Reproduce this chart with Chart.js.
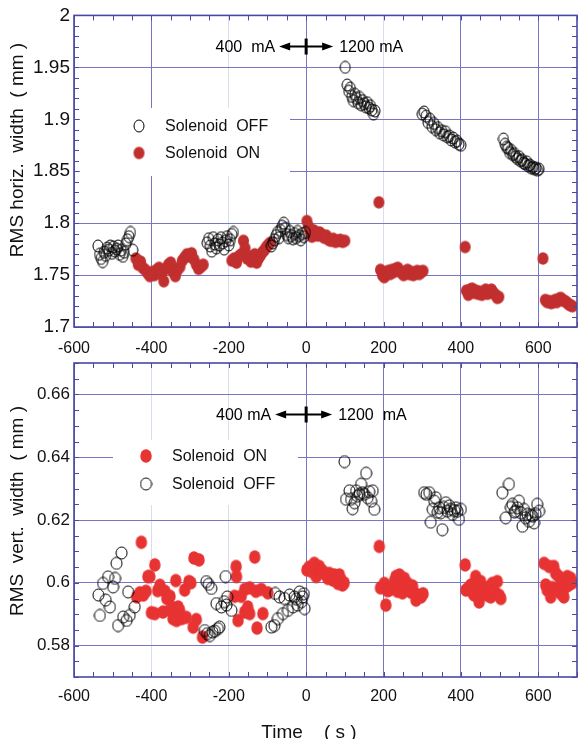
<!DOCTYPE html>
<html lang="en-US">
  <head>
    <meta charset="utf-8" />
    <title>Beam width vs time</title>
    <script src="https://cdn.jsdelivr.net/npm/chart.js@4.4.0/dist/chart.umd.min.js"></script>
  </head>
  <body>
    <div class="page">
      <canvas id="horiz" width="583" height="400"></canvas>
      <canvas id="vert" width="583" height="399"></canvas>
    </div>
  </body>

  <style>
    body{
      margin: 0;
      background: #fff;
    }
    .page{
      position: relative;
      width: 583px;
      height: 739px;
    }
    #horiz{
      position: absolute;
      left: 0;
      top: 0;
    }
    #vert{
      position: absolute;
      left: 0;
      top: 340px;
    }
  </style>

  <script>
    // time axis (s)
    const timeTicks = [-600, -400, -200, 0, 200, 400, 600];

    // horizontal width (mm)
    const horizTicks = [1.7, 1.75, 1.8, 1.85, 1.9, 1.95, 2];
    const horizTickLabels = ['1.7', '1.75', '1.8', '1.85', '1.9', '1.95', '2'];

    const horizOffT = [
      -538, -534, -530, -526, -522, -518, -514, -510, -506, -502, -498, -494, -490, -486, -482, -478, -474, -470, -466, -462, -458, -454, -448,
      -256, -252, -248, -244, -240, -236, -232, -228, -224, -220, -216, -212, -208, -204, -200, -196, -192, -188,
      -90, -86, -82, -78, -74, -70, -66, -62, -58, -54, -50, -46, -42, -38, -34, -30, -26, -22, -18, -14, -10, -6, -2,
      101, 106, 110, 114, 118, 122, 126, 130, 134, 138, 142, 146, 150, 154, 158, 162, 166, 170, 174, 178,
      300, 305, 310, 315, 320, 325, 330, 335, 340, 345, 350, 355, 360, 365, 370, 375, 380, 385, 390, 395, 400,
      510, 514, 518, 522, 526, 530, 534, 538, 542, 546, 550, 554, 558, 562, 566, 570, 574, 578, 582, 586, 590, 594, 598, 602
    ];
    const horizOffW = [
      1.778, 1.770, 1.766, 1.763, 1.772, 1.769, 1.776, 1.774, 1.778, 1.771, 1.777, 1.773, 1.775, 1.778, 1.770, 1.774, 1.768, 1.772, 1.780, 1.784, 1.787, 1.791, 1.774,
      1.781, 1.785, 1.778, 1.773, 1.786, 1.780, 1.776, 1.784, 1.779, 1.786, 1.781, 1.775, 1.783, 1.787, 1.779, 1.784, 1.789, 1.791,
      1.778, 1.781, 1.784, 1.788, 1.791, 1.786, 1.793, 1.797, 1.800, 1.795, 1.789, 1.786, 1.792, 1.788, 1.785, 1.790, 1.786, 1.792, 1.788, 1.784, 1.790, 1.787, 1.791,
      1.950, 1.933, 1.927, 1.930, 1.922, 1.918, 1.924, 1.920, 1.916, 1.921, 1.914, 1.918, 1.915, 1.912, 1.916, 1.911, 1.913, 1.909, 1.905, 1.908,
      1.905, 1.907, 1.903, 1.897, 1.900, 1.893, 1.896, 1.890, 1.892, 1.887, 1.889, 1.885, 1.888, 1.883, 1.884, 1.880, 1.882, 1.878, 1.879, 1.876, 1.875,
      1.881, 1.876, 1.873, 1.872, 1.868, 1.870, 1.866, 1.867, 1.864, 1.862, 1.864, 1.860, 1.861, 1.858, 1.857, 1.859, 1.855, 1.856, 1.853, 1.854, 1.852, 1.853, 1.851, 1.852
    ];

    const horizOnT = [
      -440, -434, -428, -422, -416, -410, -404, -398, -392, -386, -380, -374, -368, -362, -356, -350, -344, -338, -332, -326, -320, -314, -308, -302, -296, -290, -284, -278, -272, -266,
      -192, -186, -180, -174, -168, -162, -158, -153, -148, -143, -138, -133, -128, -123, -118, -113, -108, -103, -98, -93,
      2, 6, 10, 15, 20, 25, 30, 35, 40, 46, 52, 58, 64, 70, 76, 82, 88, 94, 100,
      188,
      192, 197, 202, 207, 212, 217, 222, 227, 232, 237, 242, 247, 252, 257, 262, 267, 272, 277, 282, 287, 292, 297, 302,
      411,
      414, 419, 424, 429, 434, 439, 444, 449, 454, 459, 464, 469, 474, 479, 484, 489, 494, 498,
      612,
      618, 623, 628, 633, 638, 643, 648, 653, 658, 663, 668, 673, 678, 683, 688
    ];
    const horizOnW = [
      1.766, 1.760, 1.763, 1.757, 1.755, 1.752, 1.749, 1.753, 1.750, 1.755, 1.757, 1.751, 1.744, 1.756, 1.760, 1.762, 1.753, 1.749, 1.755, 1.758, 1.764, 1.767, 1.770, 1.768, 1.771, 1.765, 1.760, 1.756, 1.758, 1.760,
      1.764, 1.766, 1.762, 1.768, 1.770, 1.783, 1.776, 1.766, 1.768, 1.763, 1.765, 1.770, 1.762, 1.766, 1.769, 1.772, 1.774, 1.777, 1.779, 1.781,
      1.802, 1.797, 1.791, 1.787, 1.793, 1.790, 1.788, 1.791, 1.789, 1.786, 1.788, 1.784, 1.783, 1.785, 1.782, 1.783, 1.784, 1.782, 1.783,
      1.820,
      1.755, 1.750, 1.748, 1.752, 1.754, 1.751, 1.755, 1.753, 1.756, 1.757, 1.754, 1.752, 1.750, 1.753, 1.755, 1.751, 1.753, 1.750, 1.752, 1.754, 1.751, 1.753, 1.754,
      1.777,
      1.735, 1.731, 1.736, 1.737, 1.733, 1.735, 1.732, 1.734, 1.731, 1.733, 1.736, 1.732, 1.734, 1.736, 1.733, 1.731, 1.728, 1.729,
      1.766,
      1.726, 1.724, 1.725, 1.723, 1.724, 1.726, 1.724, 1.727, 1.728, 1.726, 1.725, 1.724, 1.722, 1.721, 1.720
    ];

    // vertical width (mm)
    const vertTicks = [0.58, 0.6, 0.62, 0.64, 0.66];
    const vertTickLabels = ['0.58', '0.6', '0.62', '0.64', '0.66'];

    const vertOffT = [
      -537, -533, -525, -518, -512, -507, -499, -494, -490, -486, -477, -473, -464, -460, -456, -443,
      -262, -258, -256, -252, -249, -245, -242, -236, -232, -228, -224, -219, -212, -208, -206, -204, -193,
      -90, -82, -80, -73, -69, -60, -56, -47, -43, -34, -30, -26, -22, -17, -12, -9, -6, -4,
      99, 103, 112, 116, 120, 125, 129, 133, 138, 142, 146, 150, 155, 159, 163, 168, 172, 176,
      305, 311, 318, 322, 327, 331, 335, 340, 344, 348, 352, 356, 361, 365, 370, 374, 378, 383, 387, 391, 395, 400,
      507, 516, 524, 529, 533, 538, 542, 546, 550, 555, 559, 563, 567, 572, 576, 581, 585, 589, 593, 597, 602
    ];
    const vertOffW = [
      0.5961, 0.5896, 0.5998, 0.5945, 0.6019, 0.5923, 0.5987, 0.6014, 0.6062, 0.5864, 0.6095, 0.5891, 0.5880, 0.5971, 0.5896, 0.5923,
      0.5848, 0.6004, 0.5838, 0.5995, 0.5832, 0.5982, 0.5843, 0.5846, 0.5934, 0.5854, 0.5859, 0.5923, 0.5940, 0.6020, 0.5929, 0.5955, 0.5912,
      0.5859, 0.5864, 0.5966, 0.5886, 0.5955, 0.5902, 0.5950, 0.5912, 0.5961, 0.5923, 0.5955, 0.5948, 0.5929, 0.5971, 0.5940, 0.5955, 0.5965, 0.5918,
      0.6386, 0.6266, 0.6293, 0.6266, 0.6236, 0.6255, 0.6293, 0.6276, 0.6282, 0.6314, 0.6287, 0.6282, 0.6349, 0.6271, 0.6290, 0.6260, 0.6293, 0.6234,
      0.6287, 0.6282, 0.6287, 0.6193, 0.6234, 0.6260, 0.6271, 0.6225, 0.6239, 0.6223, 0.6169, 0.6240, 0.6255, 0.6228, 0.6245, 0.6234, 0.6218, 0.6230, 0.6239, 0.6228, 0.6202, 0.6234,
      0.6287, 0.6207, 0.6314, 0.6240, 0.6250, 0.6225, 0.6228, 0.6239, 0.6260, 0.6223, 0.6180, 0.6234, 0.6207, 0.6218, 0.6196, 0.6215, 0.6212, 0.6191, 0.6220, 0.6250, 0.6228
    ];

    const vertOnT = [
      -438, -430, -426, -421, -414, -409, -404, -400, -391, -391, -384, -378, -370, -365, -360, -352, -352, -348, -344, -340, -337, -335, -331, -327, -322, -314, -310, -303, -298, -292, -290, -284, -277, -268,
      -185, -181, -180, -176, -168, -159, -159, -151, -146, -146, -133, -130, -127, -116, -112, -99,
      2, 8, 14, 21, 26, 30, 34, 39, 43, 48, 52, 56, 60, 65, 69, 73, 78, 82, 86, 90, 94, 98,
      189,
      192, 202, 206, 210, 215, 223, 228, 232, 236, 241, 245, 249, 254, 258, 262, 266, 271, 275, 279, 284, 290, 297, 302,
      411,
      413, 420, 426, 430, 434, 438, 443, 447, 451, 456, 460, 464, 469, 473, 477, 481, 486, 490, 494, 499, 503,
      615, 619, 623, 628, 632, 636, 640, 645, 649, 653, 658, 662, 666, 671, 675, 679, 684, 688
    ];
    const vertOnW = [
      0.5955, 0.5968, 0.6129, 0.5961, 0.5973, 0.6020, 0.6020, 0.5905, 0.6057, 0.5902, 0.5975, 0.5992, 0.5907, 0.5973, 0.5950, 0.5957, 0.5912, 0.5923, 0.5886, 0.5890, 0.6007, 0.5880, 0.5923, 0.5912, 0.5886, 0.5977, 0.5890, 0.6004, 0.6000, 0.5859, 0.6079, 0.5883, 0.6073, 0.5827,
      0.5957, 0.6052, 0.6020, 0.5880, 0.5957, 0.5979, 0.5907, 0.5923, 0.5984, 0.5902, 0.6082, 0.5973, 0.5856, 0.5979, 0.5902, 0.5968,
      0.6041, 0.6050, 0.6036, 0.6062, 0.6020, 0.6046, 0.6052, 0.6041, 0.6036, 0.6030, 0.6025, 0.6014, 0.6030, 0.6020, 0.6009, 0.6025, 0.6014, 0.5998, 0.6025, 0.6009, 0.5993, 0.6000,
      0.6116,
      0.5984, 0.5998, 0.5929, 0.5975, 0.5977, 0.5989, 0.6005, 0.6020, 0.5973, 0.6025, 0.5990, 0.5968, 0.6014, 0.5995, 0.5998, 0.5984, 0.5970, 0.5990, 0.5968, 0.5945, 0.5960, 0.5955, 0.5965,
      0.6057,
      0.5977, 0.5985, 0.5993, 0.5970, 0.5961, 0.6020, 0.5987, 0.5939, 0.6004, 0.5966, 0.5975, 0.5982, 0.5960, 0.5987, 0.5955, 0.5998, 0.5970, 0.5966, 0.6004, 0.5960, 0.5950,
      0.6062, 0.5993, 0.5977, 0.6052, 0.5955, 0.5985, 0.6052, 0.6030, 0.5980, 0.6020, 0.5966, 0.6004, 0.5955, 0.5987, 0.6020, 0.5993, 0.6014, 0.6000
    ];

    const FONT = "'Liberation Sans', Arial, sans-serif";
    const gridBlue = '#7676c2';
    const gridPale = '#dcdcef';
    const frameBlue = '#4848a6';

    const pts = (xs, ys) => xs.map((x, i) => ({ x: x, y: ys[i] }));

    // elliptical markers, the plotted symbols are slightly taller than wide
    function ellipseMark(w, h, fill, stroke){
      const c = document.createElement('canvas');
      c.width = Math.ceil(w) + 2;
      c.height = Math.ceil(h) + 2;
      const g = c.getContext('2d');
      g.beginPath();
      g.ellipse(c.width / 2, c.height / 2, w / 2, h / 2, 0, 0, Math.PI * 2);
      if(fill){ g.fillStyle = fill; g.fill(); }
      if(stroke){ g.strokeStyle = stroke; g.lineWidth = 1; g.stroke(); }
      return c;
    }

    const topOff = ellipseMark(10, 12, null, '#000');
    const topOn = ellipseMark(11, 12.5, '#c22f2f', null);
    const botOff = ellipseMark(11, 12, null, '#000');
    const botOn = ellipseMark(11.5, 13.5, '#e83333', null);

    // frame, inward minor ticks, legend box, current arrow and y title
    const panelDecor = {
      id: 'panelDecor',
      beforeDatasetsDraw(chart, args, o){
        const ctx = chart.ctx;
        ctx.save();
        ctx.fillStyle = '#fff';
        ctx.fillRect(o.legendBox[0], o.legendBox[1], o.legendBox[2], o.legendBox[3]);
        ctx.font = o.legendFont;
        ctx.fillStyle = '#111';
        ctx.textBaseline = 'middle';
        o.legendItems.forEach((it) => {
          ctx.drawImage(it.mark, it.x - it.mark.width / 2, it.y - it.mark.height / 2);
          ctx.fillText(it.text, it.tx, it.y + 1);
        });
        ctx.restore();
      },
      afterDatasetsDraw(chart, args, o){
        const ctx = chart.ctx;
        const a = chart.chartArea;
        const xs = chart.scales.x;
        const ys = chart.scales.y;
        ctx.save();

        ctx.strokeStyle = frameBlue;
        ctx.lineWidth = 1;
        ctx.beginPath();
        for(let i = 0; i <= 26; i++){
          const px = Math.round(xs.getPixelForValue(-600 + i * 50)) + 0.5;
          ctx.moveTo(px, a.top); ctx.lineTo(px, a.top + 5);
          ctx.moveTo(px, a.bottom); ctx.lineTo(px, a.bottom - 5);
        }
        for(let i = 0; i <= o.yMinorCount; i++){
          const py = Math.round(ys.getPixelForValue(ys.min + i * o.yMinorStep)) + 0.5;
          ctx.moveTo(a.left, py); ctx.lineTo(a.left + 5, py);
          ctx.moveTo(a.right, py); ctx.lineTo(a.right - 5, py);
        }
        ctx.stroke();

        ctx.lineWidth = 1.6;
        ctx.strokeRect(a.left, a.top, a.right - a.left, a.bottom - a.top);

        // 400 mA <-> 1200 mA marker at t = 0
        const cx = xs.getPixelForValue(0);
        const cy = ys.getPixelForValue(o.arrowY);
        ctx.strokeStyle = '#000';
        ctx.fillStyle = '#000';
        ctx.lineWidth = 2;
        ctx.beginPath();
        ctx.moveTo(cx - o.arrowLeft + 8, cy); ctx.lineTo(cx + o.arrowRight - 8, cy);
        ctx.stroke();
        ctx.beginPath();
        ctx.moveTo(cx - o.arrowLeft, cy); ctx.lineTo(cx - o.arrowLeft + 11, cy - 4); ctx.lineTo(cx - o.arrowLeft + 11, cy + 4); ctx.closePath();
        ctx.moveTo(cx + o.arrowRight, cy); ctx.lineTo(cx + o.arrowRight - 11, cy - 4); ctx.lineTo(cx + o.arrowRight - 11, cy + 4); ctx.closePath();
        ctx.fill();
        ctx.fillRect(cx - 1.5, cy - 8, 3, 16);
        ctx.font = o.arrowFont;
        ctx.textBaseline = 'middle';
        ctx.textAlign = 'right';
        ctx.fillText(o.leftText, cx - o.arrowLeft - 4, cy + 1);
        ctx.textAlign = 'left';
        ctx.fillText(o.rightText, cx + o.arrowRight + 6, cy + 1);

        // axis titles
        ctx.font = o.titleFont;
        ctx.fillStyle = '#111';
        ctx.textAlign = 'center';
        if(o.xTitle){
          ctx.fillText(o.xTitle, o.xTitlePos[0], o.xTitlePos[1]);
        }
        ctx.translate(o.yTitlePos[0], o.yTitlePos[1]);
        ctx.rotate(-Math.PI / 2);
        ctx.fillText(o.yTitle, 0, 0);
        ctx.restore();
      }
    };

    function makeScales(yMin, yMax, yTicks, yLabels, yFontSize, xHeight, xPad, paleTimes){
      return {
        x: {
          type: 'linear',
          min: -600,
          max: 700,
          afterBuildTicks: (s) => { s.ticks = timeTicks.map((v) => ({ value: v })); },
          afterFit: (s) => { s.height = xHeight; },
          ticks: {
            color: '#111',
            padding: xPad,
            font: { family: FONT, size: 16 },
            callback: (v) => String(v)
          },
          grid: {
            drawTicks: false,
            lineWidth: 1,
            color: (c) => paleTimes.includes(c.tick.value) ? gridPale : gridBlue
          },
          border: { display: false }
        },
        y: {
          type: 'linear',
          min: yMin,
          max: yMax,
          afterBuildTicks: (s) => { s.ticks = yTicks.map((v) => ({ value: v })); },
          afterFit: (s) => { s.width = 74; },
          ticks: {
            color: '#111',
            padding: 4,
            font: { family: FONT, size: yFontSize },
            callback: (v) => yLabels[yTicks.indexOf(v)]
          },
          grid: { drawTicks: false, lineWidth: 1, color: gridBlue },
          border: { display: false }
        }
      };
    }

    const common = {
      responsive: false,
      animation: false,
      devicePixelRatio: 1,
      events: []
    };

    new Chart(document.getElementById('horiz'), {
      type: 'scatter',
      data: {
        datasets: [
          { label: 'Solenoid OFF', data: pts(horizOffT, horizOffW), pointStyle: topOff, order: 0 },
          { label: 'Solenoid ON', data: pts(horizOnT, horizOnW), pointStyle: topOn, order: 1 }
        ]
      },
      options: Object.assign({}, common, {
        layout: { padding: { top: 15, right: 6, left: 0, bottom: 0 } },
        scales: makeScales(1.7, 2, horizTicks, horizTickLabels, 19, 73, 12, [-200, 200]),
        plugins: {
          legend: { display: false },
          tooltip: { enabled: false },
          panelDecor: {
            yMinorStep: 0.01, yMinorCount: 30,
            legendBox: [80, 108, 210, 68],
            legendFont: '16px ' + FONT,
            legendItems: [
              { mark: topOff, x: 139, y: 126, tx: 165, text: 'Solenoid  OFF' },
              { mark: topOn, x: 139, y: 153, tx: 165, text: 'Solenoid  ON' }
            ],
            arrowY: 1.97, arrowLeft: 27, arrowRight: 27,
            arrowFont: '16px ' + FONT,
            leftText: '400  mA', rightText: '1200 mA',
            titleFont: '19px ' + FONT,
            yTitle: 'RMS horiz.  width  ( mm )',
            yTitlePos: [18, 150]
          }
        }
      }),
      plugins: [panelDecor]
    });

    new Chart(document.getElementById('vert'), {
      type: 'scatter',
      data: {
        datasets: [
          { label: 'Solenoid OFF', data: pts(vertOffT, vertOffW), pointStyle: botOff, order: 0 },
          { label: 'Solenoid ON', data: pts(vertOnT, vertOnW), pointStyle: botOn, order: 1 }
        ]
      },
      options: Object.assign({}, common, {
        layout: { padding: { top: 23, right: 6, left: 0, bottom: 0 } },
        scales: makeScales(0.57, 0.67, vertTicks, vertTickLabels, 17, 62, 10, [-400, -200]),
        plugins: {
          legend: { display: false },
          tooltip: { enabled: false },
          panelDecor: {
            yMinorStep: 0.005, yMinorCount: 20,
            legendBox: [113, 100, 185, 65],
            legendFont: '16px ' + FONT,
            legendItems: [
              { mark: botOn, x: 146, y: 116, tx: 172, text: 'Solenoid  ON' },
              { mark: botOff, x: 146, y: 144, tx: 172, text: 'Solenoid  OFF' }
            ],
            arrowY: 0.6536, arrowLeft: 31, arrowRight: 26,
            arrowFont: '16px ' + FONT,
            leftText: '400 mA', rightText: '1200  mA',
            titleFont: '19px ' + FONT,
            yTitle: 'RMS  vert.  width  ( mm )',
            yTitlePos: [18, 171],
            xTitle: 'Time    ( s )',
            xTitlePos: [309, 393]
          }
        }
      }),
      plugins: [panelDecor]
    });
  </script>
</html>
